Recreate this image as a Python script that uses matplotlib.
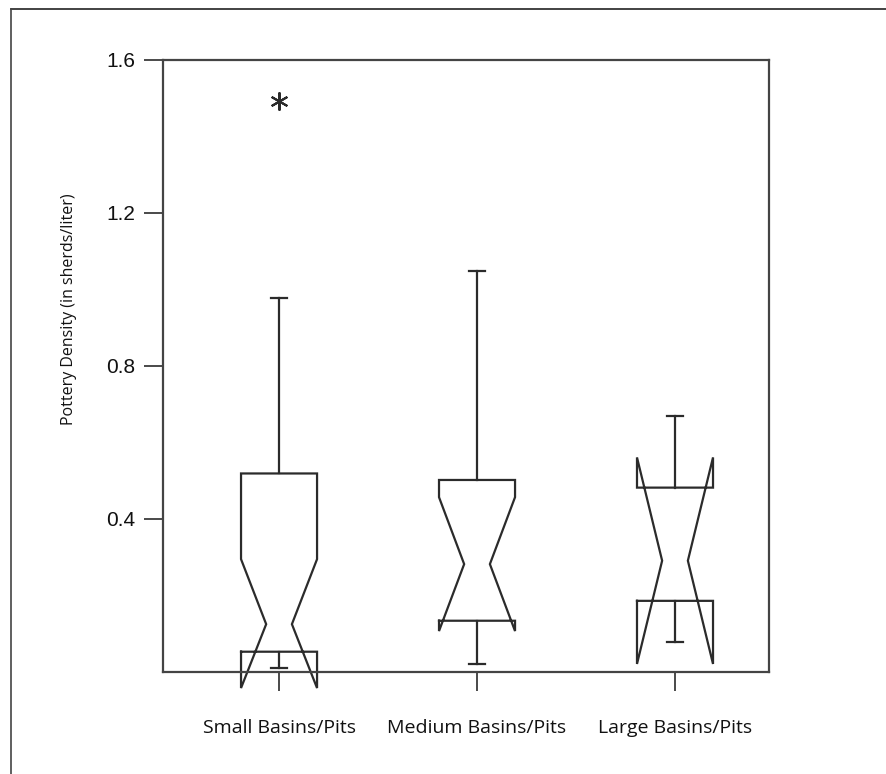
import matplotlib
matplotlib.use("Agg")
import matplotlib.pyplot as plt
from matplotlib.lines import Line2D

# Box-plot summary statistics (sherds per liter)
categories = ["Small Basins/Pits", "Medium Basins/Pits", "Large Basins/Pits"]
q1 = [0.053, 0.134, 0.186]
median = [0.125, 0.282, 0.291]
q3 = [0.519, 0.502, 0.482]
notch_lo = [-0.042, 0.107, 0.021]
notch_hi = [0.295, 0.457, 0.561]
whisker_lo = [0.011, 0.020, 0.078]
whisker_hi = [0.977, 1.048, 0.669]
outliers = [[1.494], [], []]

y_ticks = [0.4, 0.8, 1.2, 1.6]
y_tick_labels = ["0.4", "0.8", "1.2", "1.6"]

LINE = "#2b2b2b"
LW = 1.6
BOX_HALF = 0.192
WAIST_HALF = 0.065
CAP_HALF = 0.04

fig = plt.figure(figsize=(8.86, 7.74), dpi=100)
ax = fig.add_axes([0.184, 0.1318, 0.684, 0.7907])

positions = [1, 2, 3]
for i, x in enumerate(positions):
    l, r = x - BOX_HALF, x + BOX_HALF
    wl, wr = x - WAIST_HALF, x + WAIST_HALF
    bx = [l, r, r, wr, r, r, l, l, wl, l, l]
    by = [q1[i], q1[i], notch_lo[i], median[i], notch_hi[i], q3[i],
          q3[i], notch_hi[i], median[i], notch_lo[i], q1[i]]
    ax.plot(bx, by, color=LINE, lw=LW, clip_on=False, solid_joinstyle="miter")
    # whiskers and caps
    ax.plot([x, x], [q3[i], whisker_hi[i]], color=LINE, lw=LW)
    ax.plot([x, x], [q1[i], whisker_lo[i]], color=LINE, lw=LW)
    ax.plot([x - CAP_HALF, x + CAP_HALF], [whisker_hi[i], whisker_hi[i]],
            color=LINE, lw=LW)
    ax.plot([x - CAP_HALF, x + CAP_HALF], [whisker_lo[i], whisker_lo[i]],
            color=LINE, lw=LW)
    for v in outliers[i]:
        ax.plot([x], [v], linestyle="none", marker=(6, 2, 0), markersize=13,
                markeredgewidth=1.5, color=LINE)

ax.set_xlim(0.414, 3.475)
ax.set_ylim(0, 1.6)
ax.set_yticks(y_ticks)
ax.set_yticklabels(y_tick_labels, family="Liberation Sans", fontsize=15)
ax.set_xticks(positions)
ax.set_xticklabels(categories, family="Open Sans", fontsize=14)
ax.tick_params(axis="both", direction="out", length=14, width=1.2,
               color=LINE, labelcolor="#111111")
ax.tick_params(axis="y", pad=6)
ax.tick_params(axis="x", pad=20)
ax.set_ylabel("Pottery Density (in sherds/liter)", family="Open Sans",
              fontsize=11.5, color="#111111")
ax.yaxis.set_label_coords(-0.1415, 0.592)
for sp in ax.spines.values():
    sp.set_color("#444444")
    sp.set_linewidth(1.6)

# outer frame lines along the top and left edges
fig.add_artist(Line2D([11 / 886, 1.0], [1 - 9 / 774, 1 - 9 / 774],
                      transform=fig.transFigure, color="#222222", lw=1.2))
fig.add_artist(Line2D([11 / 886, 11 / 886], [0.0, 1 - 9 / 774],
                      transform=fig.transFigure, color="#444444", lw=1.2))

fig.savefig("out.png", dpi=100, facecolor="white")
